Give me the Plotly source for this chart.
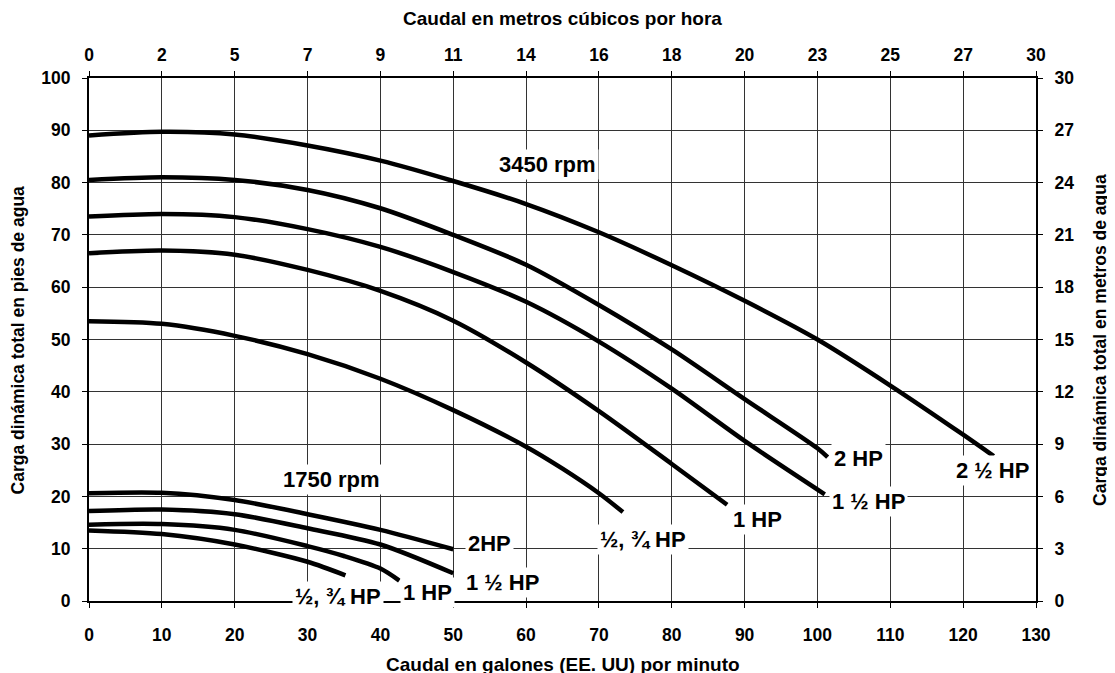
import plotly.graph_objects as go

# ---- data (gpm, feet) ----
gpm_25 = [0, 10, 20, 30, 40, 50, 60, 70, 80, 90, 100, 110, 120, 124.2]
ft_25 = [89, 89.7, 89.2, 87.1, 84.2, 80.3, 75.9, 70.5, 64.2, 57.4, 50.0, 41.2, 31.8, 27.7]

gpm_20 = [0, 10, 20, 30, 40, 50, 60, 70, 80, 90, 100, 101.4]
ft_20 = [80.5, 81, 80.5, 78.6, 75.1, 70, 64.3, 56.6, 48.1, 38.6, 29.2, 27.5]

gpm_15 = [0, 10, 20, 30, 40, 50, 60, 70, 80, 90, 101]
ft_15 = [73.5, 74, 73.4, 71.1, 67.7, 62.9, 57.2, 49.6, 40.6, 30.6, 20.4]

gpm_10 = [0, 10, 20, 30, 40, 50, 60, 70, 80, 87.6]
ft_10 = [66.5, 67, 66.2, 63.3, 59.3, 53.6, 45.6, 36.3, 26.2, 18.4]

gpm_05 = [0, 10, 20, 30, 40, 50, 60, 65, 70, 73.3]
ft_05 = [53.5, 53, 50.7, 47.2, 42.5, 36.5, 29.5, 25.3, 20.6, 17.0]

gpm_l20 = [0, 10, 20, 30, 40, 50]
ft_l20 = [20.6, 20.7, 19.3, 16.6, 13.6, 9.9]

gpm_l15 = [0, 10, 20, 30, 40, 50]
ft_l15 = [17.2, 17.5, 16.6, 13.9, 10.8, 5.3]

gpm_l10 = [0, 10, 20, 30, 35, 40, 42.6]
ft_l10 = [14.6, 14.7, 13.6, 10.5, 8.6, 6.2, 3.9]

gpm_l05 = [0, 10, 20, 30, 35.2]
ft_l05 = [13.5, 12.8, 10.8, 7.5, 4.9]

x_ticks = [0, 10, 20, 30, 40, 50, 60, 70, 80, 90, 100, 110, 120, 130]
top_tick_labels = ["0", "2", "5", "7", "9", "11", "14", "16", "18", "20", "23", "25", "27", "30"]
y_ticks = [0, 10, 20, 30, 40, 50, 60, 70, 80, 90, 100]
right_tick_labels = ["0", "3", "6", "9", "12", "15", "18", "21", "24", "27", "30"]

labels = [
    ("3450 rpm", 62.9, 83.4),
    ("1750 rpm", 33.3, 23.3),
    ("2 HP", 105.6, 27.3),
    ("2 ½ HP", 124.0, 24.9),
    ("1 ½ HP", 107.0, 19.0),
    ("1 HP", 91.7, 15.5),
    ("½, ¾ HP", 76.0, 11.7),
    ("2HP", 55.0, 11.0),
    ("1 ½ HP", 56.7, 3.5),
    ("1 HP", 46.4, 1.7),
    ("½, ¾ HP", 34.2, 0.8),
]

FONT = "Liberation Sans, Arial, sans-serif"

fig = go.Figure()
for xs, ys in [(gpm_25, ft_25), (gpm_20, ft_20), (gpm_15, ft_15), (gpm_10, ft_10),
               (gpm_05, ft_05), (gpm_l20, ft_l20), (gpm_l15, ft_l15), (gpm_l10, ft_l10),
               (gpm_l05, ft_l05)]:
    fig.add_trace(go.Scatter(x=xs, y=ys, mode="lines",
                             line=dict(color="black", width=4.5, shape="spline", smoothing=0.8),
                             showlegend=False, hoverinfo="skip"))

# invisible trace to activate secondary axes
fig.add_trace(go.Scatter(x=[0], y=[0], xaxis="x2", yaxis="y2", mode="markers",
                         marker=dict(opacity=0), showlegend=False, hoverinfo="skip"))

for text, x, y in labels:
    fig.add_annotation(x=x, y=y, text=text, showarrow=False,
                       font=dict(family=FONT, size=22, color="black", weight="bold"),
                       bgcolor="white", borderpad=2)

axis_common = dict(
    showgrid=True, gridcolor="#333", gridwidth=1,
    showline=True, linecolor="black", linewidth=2,
    ticks="outside", ticklen=5, tickcolor="black", tickwidth=1,
    tickfont=dict(family=FONT, size=17.5, color="black", weight="bold"),
    zeroline=False,
)

fig.update_layout(
    width=1115, height=673,
    margin=dict(l=81, r=87, t=70, b=80),
    plot_bgcolor="white", paper_bgcolor="white",
    font=dict(family=FONT, color="black"),
    xaxis=dict(range=[0, 130], tickvals=x_ticks, ticklabelstandoff=12, **axis_common),
    xaxis2=dict(range=[0, 130], overlaying="x", side="top", tickvals=x_ticks,
                ticktext=top_tick_labels, ticklabelstandoff=3,
                **{**axis_common, "showgrid": False}),
    yaxis=dict(range=[0, 100], tickvals=y_ticks, ticklabelstandoff=8, **axis_common),
    yaxis2=dict(range=[0, 100], overlaying="y", side="right", tickvals=y_ticks,
                ticktext=right_tick_labels, ticklabelstandoff=8,
                **{**axis_common, "showgrid": False}),
)

titles = [
    ("Caudal en metros cúbicos por hora", 0.5, 1.1147, 0, 19),
    ("Caudal en galones (EE. UU) por minuto", 0.5, -0.1205, 0, 19),
    ("Carga dinámica total en pies de agua", -0.075, 0.5, -90, 17.5),
    ("Carga dinámica total en metros de agua", 1.067, 0.5, -90, 17.5),
]
for text, x, y, ang, sz in titles:
    fig.add_annotation(xref="paper", yref="paper", x=x, y=y, text=text,
                       showarrow=False, textangle=ang, xanchor="center", yanchor="middle",
                       font=dict(family=FONT, size=sz, color="black", weight="bold"))

fig.write_html("out.html")
